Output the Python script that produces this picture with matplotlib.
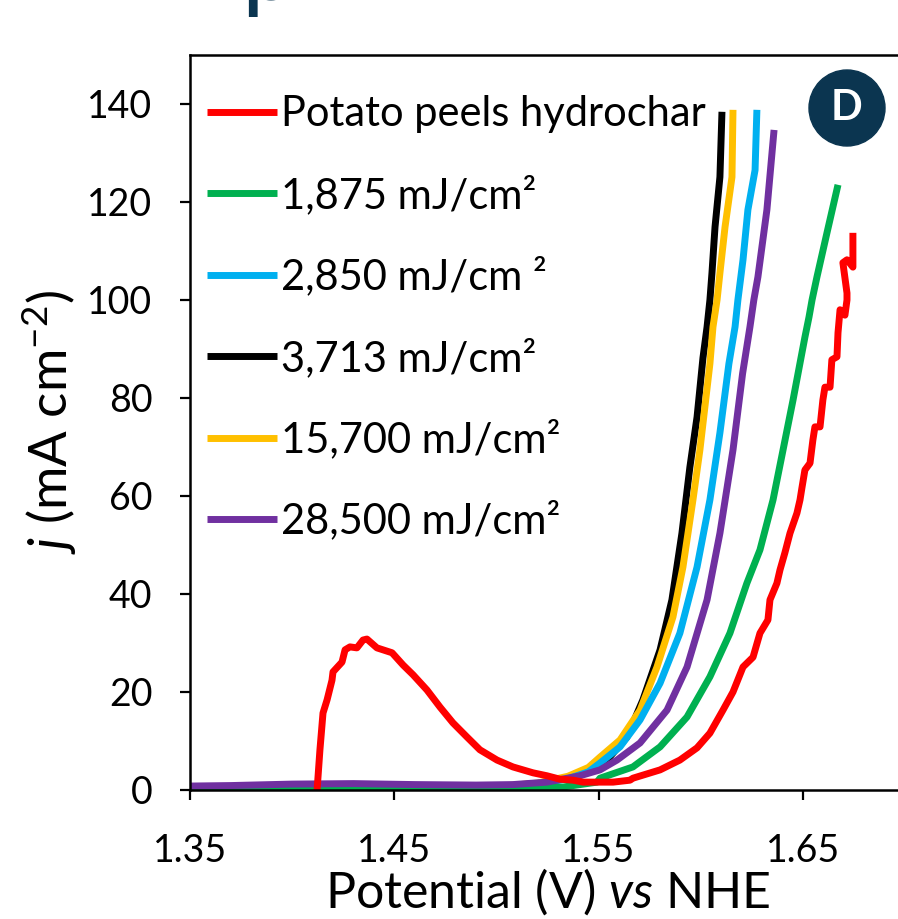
import matplotlib.pyplot as plt
from matplotlib.patches import Circle

plt.rcParams['font.family'] = ['Lato', 'DejaVu Sans']
plt.rcParams['mathtext.fontset'] = 'custom'
plt.rcParams['mathtext.rm'] = 'Lato'
plt.rcParams['mathtext.it'] = 'Lato:italic'

# LSV curves, potential (V vs NHE) and current density (mA cm-2)
potato_v = [1.4122, 1.4136, 1.4151, 1.4171, 1.4195, 1.4200, 1.4244, 1.4259, 1.4283, 1.4317,
            1.4347, 1.4366, 1.4415, 1.4489, 1.4543, 1.4592, 1.4660, 1.4724, 1.4787, 1.4856,
            1.4919, 1.5003, 1.5081, 1.5179, 1.5247, 1.5311, 1.5375, 1.5424, 1.5507, 1.5571,
            1.5654, 1.5668, 1.5801, 1.5898, 1.5982, 1.6045, 1.6109, 1.6158, 1.6207, 1.6256,
            1.6290, 1.6329, 1.6339, 1.6373, 1.6388, 1.6412, 1.6437, 1.6471, 1.6486, 1.6496,
            1.6510, 1.6535, 1.6549, 1.6559, 1.6584, 1.6598, 1.6608, 1.6633, 1.6642, 1.6667,
            1.6672, 1.6682, 1.6706, 1.6716, 1.6716, 1.6696, 1.6716, 1.6745, 1.6745]
potato_j = [0.0, 8.2, 15.7, 18.4, 22.4, 24.1, 26.1, 28.6, 29.2, 29.0,
            30.6, 30.8, 29.0, 28.0, 25.5, 23.5, 20.4, 16.9, 13.7, 10.8,
            8.2, 6.1, 4.7, 3.5, 2.9, 2.2, 2.0, 1.6, 1.6, 1.6,
            2.0, 2.4, 4.1, 6.1, 8.6, 11.6, 16.3, 20.0, 25.1, 27.1,
            32.0, 34.7, 38.8, 42.2, 44.9, 48.4, 52.4, 56.5, 59.2, 61.8,
            65.3, 66.7, 71.4, 74.1, 74.1, 79.6, 82.2, 82.2, 87.8, 88.4,
            93.3, 98.0, 96.9, 100.0, 101.4, 107.6, 108.2, 106.7, 113.7]

e1875_v = [1.35, 1.40, 1.45, 1.50, 1.5326, 1.5492, 1.5507, 1.5668, 1.5801, 1.5933, 1.6045,
           1.6143, 1.6226, 1.6290, 1.6354, 1.6403, 1.6452, 1.6490, 1.6510, 1.6530, 1.6545,
           1.6569, 1.6618, 1.6672]
e1875_j = [0.3, 0.4, 0.4, 0.4, 0.6, 1.6, 2.4, 4.7, 8.8, 14.9, 23.1,
           32.0, 42.2, 49.0, 59.2, 69.4, 79.6, 88.0, 92.4, 96.5, 100.0,
           104.7, 113.7, 123.5]

e2850_v = [1.35, 1.40, 1.45, 1.50, 1.52, 1.535, 1.545, 1.5507, 1.5605, 1.5703, 1.5801,
           1.5898, 1.5982, 1.6045, 1.6094, 1.6138, 1.6168, 1.6182, 1.6207, 1.6231, 1.6266, 1.6275]
e2850_j = [0.4, 0.5, 0.5, 0.7, 1.2, 2.3, 3.7, 5.5, 8.8, 14.3, 21.8,
           32.0, 45.5, 59.2, 72.9, 87.0, 94.5, 100.0, 108.2, 118.4, 126.5, 138.8]

e3713_v = [1.35, 1.40, 1.45, 1.50, 1.52, 1.535, 1.545, 1.5507, 1.5541, 1.5639, 1.5717,
           1.5801, 1.5859, 1.5908, 1.5947, 1.5982, 1.6011, 1.6031, 1.6045, 1.6055, 1.6070,
           1.6094, 1.6104]
e3713_j = [0.5, 0.6, 0.6, 0.7, 1.3, 2.5, 3.9, 5.1, 6.1, 10.8, 18.4,
           28.6, 38.8, 52.4, 65.9, 76.1, 88.2, 94.5, 100.0, 105.5, 114.9,
           125.1, 138.4]

e15700_v = [1.35, 1.40, 1.45, 1.50, 1.52, 1.535, 1.545, 1.5507, 1.5605, 1.5703, 1.5786,
            1.5864, 1.5913, 1.5962, 1.5996, 1.6045, 1.6060, 1.6080, 1.6094, 1.6119, 1.6153, 1.6158]
e15700_j = [0.4, 0.5, 0.5, 0.7, 1.4, 2.8, 4.6, 6.7, 10.2, 16.3, 25.1,
            35.3, 45.5, 59.2, 69.4, 87.0, 94.5, 100.0, 105.5, 114.9, 125.1, 138.8]

e28500_v = [1.35, 1.37, 1.40, 1.43, 1.46, 1.49, 1.5081, 1.5247, 1.5409, 1.5507, 1.5590,
            1.5703, 1.5835, 1.5933, 1.6031, 1.6094, 1.6158, 1.6205, 1.6241, 1.6260, 1.6280,
            1.6324, 1.6359]
e28500_j = [0.8, 0.9, 1.2, 1.3, 1.1, 1.0, 1.1, 1.6, 2.9, 4.1, 6.1,
            9.6, 16.3, 25.1, 38.8, 52.4, 69.4, 85.0, 94.5, 100.0, 104.7,
            118.4, 134.7]

labels = ['Potato peels hydrochar', '1,875 mJ/cm²', '2,850 mJ/cm ²',
          '3,713 mJ/cm²', '15,700 mJ/cm²', '28,500 mJ/cm²']
colors = ['#ff0000', '#00b050', '#00b0f0', '#000000', '#ffc000', '#7030a0']

fig = plt.figure(figsize=(8.98, 9.19), dpi=100)
ax = fig.add_axes([0.2116, 0.1404, 0.7962, 0.7998])

lw = 5
kw = dict(lw=lw, solid_joinstyle='round', solid_capstyle='butt')
l_black, = ax.plot(e3713_v, e3713_j, color=colors[3], label=labels[3], **kw)
l_yellow, = ax.plot(e15700_v, e15700_j, color=colors[4], label=labels[4], **kw)
l_blue, = ax.plot(e2850_v, e2850_j, color=colors[2], label=labels[2], **kw)
l_green, = ax.plot(e1875_v, e1875_j, color=colors[1], label=labels[1], **kw)
l_purple, = ax.plot(e28500_v, e28500_j, color=colors[5], label=labels[5], **kw)
l_red, = ax.plot(potato_v, potato_j, color=colors[0], label=labels[0], **kw)

ax.set_xlim(1.35, 1.70)
ax.set_ylim(0, 150)
ax.set_xticks([1.35, 1.45, 1.55, 1.65])
ax.set_xticklabels(['1.35', '1.45', '1.55', '1.65'])
ax.set_yticks(range(0, 141, 20))
ax.tick_params(direction='out', length=7, width=1.6, labelsize=27)
ax.tick_params(axis='y', pad=20)
ax.tick_params(axis='x', pad=24)
for s in ax.spines.values():
    s.set_linewidth(1.8)

ax.set_xlabel(r'Potential (V) $\it{vs}$ NHE', fontsize=36, labelpad=-2)
ax.set_ylabel(r'$\it{j}$ (mA cm$^{-2}$)', fontsize=38, labelpad=6)

leg = ax.legend(handles=[l_red, l_green, l_blue, l_black, l_yellow, l_purple],
                loc='upper left', bbox_to_anchor=(0.024, 0.945), frameon=False,
                fontsize=30, handlelength=1.68, handletextpad=0.08,
                labelspacing=1.0, borderpad=0, borderaxespad=0)

# panel badge
navy = '#0b3550'
fig.add_artist(Circle((8.47, 9.19 - 1.08), 0.38, transform=fig.dpi_scale_trans,
                      color=navy, zorder=5))
fig.text(847 / 898, 1 - 108 / 919, 'D', ha='center', va='center', color='white',
         fontsize=30, fontweight='bold', zorder=6)
# cut-off title above the panel
fig.text(241 / 898, 1.0, 'p', ha='left', va='baseline', color=navy, fontsize=70)

fig.savefig('out.png', dpi=100)
